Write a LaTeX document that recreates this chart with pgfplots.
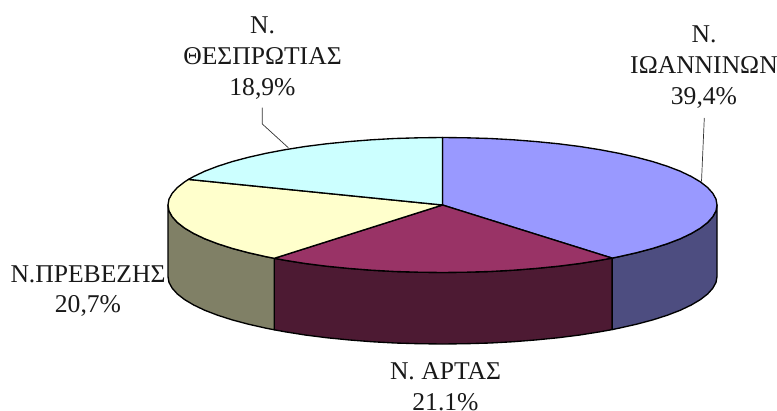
\documentclass[border=0pt]{standalone}
\usepackage{pgfplots}
\pgfplotsset{compat=1.18}
\usepackage{fontspec}
\setmainfont{Liberation Serif}
\definecolor{ioa}{HTML}{9999FF}
\definecolor{ioaS}{HTML}{4D4D80}
\definecolor{art}{HTML}{993366}
\definecolor{artS}{HTML}{4D1A33}
\definecolor{pre}{HTML}{FFFFCC}
\definecolor{preS}{HTML}{808066}
\definecolor{the}{HTML}{CCFFFF}
\tikzset{
  wedge/.style={draw=black,line width=1.35pt,line join=round},
  lab/.style={align=center,font=\fontsize{25.6}{30.6}\selectfont,text=black!90,inner sep=0pt,anchor=center}
}
\begin{document}
\begin{tikzpicture}[x=1pt,y=1pt]
\clip (0,0) rectangle (777,410);
\begin{axis}[
  at={(0,0)},anchor=south west,
  scale only axis,width=777pt,height=410pt,
  xmin=-442.5,xmax=334.5,ymin=-205,ymax=205,
  hide axis,clip=false
]
% side faces (depth 71.5)
\addplot[wedge,fill=ioaS] coordinates {(274.5,0)(273.5,-5.9)(270.3,-11.7)(265.1,-17.5)(257.9,-23.1)(248.8,-28.5)(237.7,-33.8)(224.9,-38.7)(210.3,-43.4)(194.1,-47.7)(176.4,-51.7)(169.6,-53.1)
 (169.6,-124.6)(176.4,-123.2)(194.1,-119.2)(210.3,-114.9)(224.9,-110.2)(237.7,-105.3)(248.8,-100)(257.9,-94.6)(265.1,-89)(270.3,-83.2)(273.5,-77.4)(274.5,-71.5)} -- cycle;
\addplot[wedge,fill=artS] coordinates {(169.6,-53.1)(157.4,-55.3)(137.3,-58.5)(116,-61.2)(93.9,-63.4)(71,-65.2)(47.7,-66.5)(23.9,-67.2)(0,-67.5)(-23.9,-67.2)(-47.7,-66.5)(-71,-65.2)(-93.9,-63.4)(-116,-61.2)(-137.3,-58.5)(-157.4,-55.3)(-168.2,-53.3)
 (-168.2,-124.8)(-157.4,-126.8)(-137.3,-130)(-116,-132.7)(-93.9,-134.9)(-71,-136.7)(-47.7,-138)(-23.9,-138.7)(0,-139)(23.9,-138.7)(47.7,-138)(71,-136.7)(93.9,-134.9)(116,-132.7)(137.3,-130)(157.4,-126.8)(169.6,-124.6)} -- cycle;
\addplot[wedge,fill=preS] coordinates {(-168.2,-53.3)(-176.4,-51.7)(-194.1,-47.7)(-210.3,-43.4)(-224.9,-38.7)(-237.7,-33.8)(-248.8,-28.5)(-257.9,-23.1)(-265.1,-17.5)(-270.3,-11.7)(-273.5,-5.9)(-274.5,0)
 (-274.5,-71.5)(-273.5,-77.4)(-270.3,-83.2)(-265.1,-89)(-257.9,-94.6)(-248.8,-100)(-237.7,-105.3)(-224.9,-110.2)(-210.3,-114.9)(-194.1,-119.2)(-176.4,-123.2)(-168.2,-124.8)} -- cycle;
% top faces: 39,4 / 21,1 / 20,7 / 18,9 %
\addplot[wedge,fill=ioa] coordinates {(0,0)(0,67.5)(23.9,67.2)(47.7,66.5)(71,65.2)(93.9,63.4)(116,61.2)(137.3,58.5)(157.4,55.3)(176.4,51.7)(194.1,47.7)(210.3,43.4)(224.9,38.7)(237.7,33.8)(248.8,28.5)(257.9,23.1)(265.1,17.5)(270.3,11.7)(273.5,5.9)(274.5,0)(273.5,-5.9)(270.3,-11.7)(265.1,-17.5)(257.9,-23.1)(248.8,-28.5)(237.7,-33.8)(224.9,-38.7)(210.3,-43.4)(194.1,-47.7)(176.4,-51.7)(169.6,-53.1)} -- cycle;
\addplot[wedge,fill=art] coordinates {(0,0)(169.6,-53.1)(157.4,-55.3)(137.3,-58.5)(116,-61.2)(93.9,-63.4)(71,-65.2)(47.7,-66.5)(23.9,-67.2)(0,-67.5)(-23.9,-67.2)(-47.7,-66.5)(-71,-65.2)(-93.9,-63.4)(-116,-61.2)(-137.3,-58.5)(-157.4,-55.3)(-168.2,-53.3)} -- cycle;
\addplot[wedge,fill=pre] coordinates {(0,0)(-168.2,-53.3)(-176.4,-51.7)(-194.1,-47.7)(-210.3,-43.4)(-224.9,-38.7)(-237.7,-33.8)(-248.8,-28.5)(-257.9,-23.1)(-265.1,-17.5)(-270.3,-11.7)(-273.5,-5.9)(-274.5,0)(-273.5,5.9)(-270.3,11.7)(-265.1,17.5)(-257.9,23.1)(-254,25.6)} -- cycle;
\addplot[wedge,fill=the] coordinates {(0,0)(-254,25.6)(-248.8,28.5)(-237.7,33.8)(-224.9,38.7)(-210.3,43.4)(-194.1,47.7)(-176.4,51.7)(-157.4,55.3)(-137.3,58.5)(-116,61.2)(-93.9,63.4)(-71,65.2)(-47.7,66.5)(-23.9,67.2)(0,67.5)} -- cycle;
% leader lines
\addplot[draw=black!80,line width=0.7pt] coordinates {(-180.2,97.3)(-180.2,81)(-154.2,57.3)};
\addplot[draw=black!80,line width=0.7pt] coordinates {(261.8,87)(259,23.5)};
% labels
\node[lab] at (axis cs:-180,147) {Ν.\\ΘΕΣΠΡΩΤΙΑΣ\\18,9\%};
\node[lab] at (axis cs:261.5,138) {Ν.\\ΙΩΑΝΝΙΝΩΝ\\39,4\%};
\node[lab] at (axis cs:-354.5,-86) {Ν.ΠΡΕΒΕΖΗΣ\\20,7\%};
\node[lab] at (axis cs:3,-181.5) {Ν. ΑΡΤΑΣ\\21.1\%};
\end{axis}
\end{tikzpicture}
\end{document}
